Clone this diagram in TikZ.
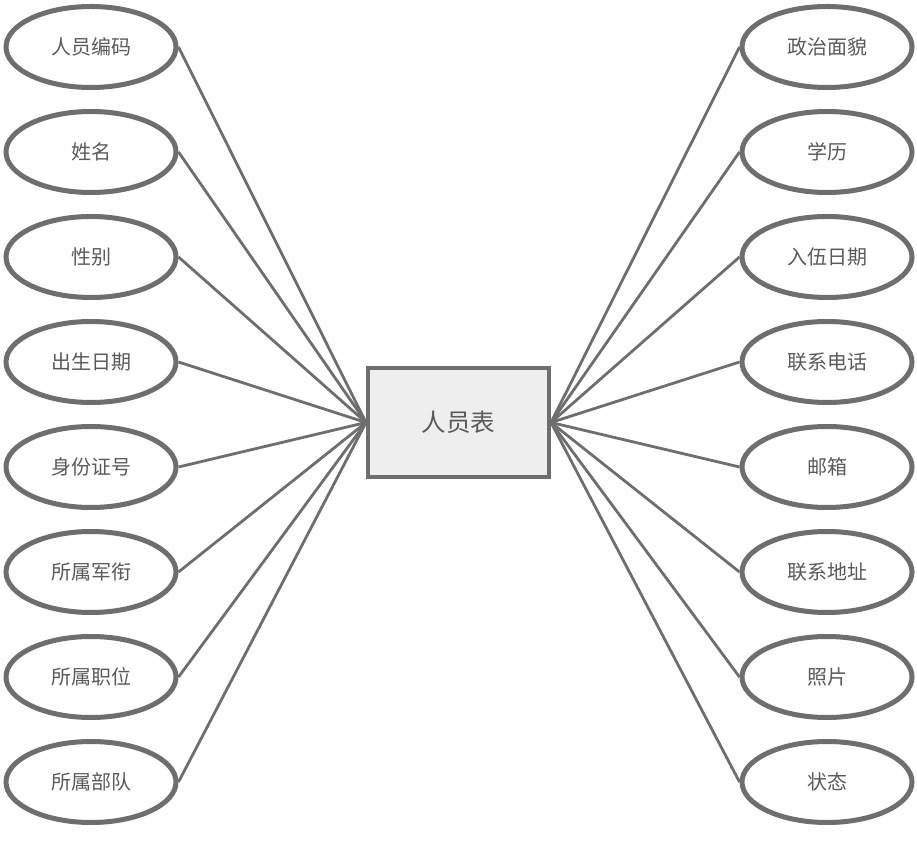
\documentclass[tikz,border=0pt]{standalone}
\usepackage{fontspec}
\newfontfamily\cjk{Noto Sans CJK SC}
\usetikzlibrary{shapes.geometric}
\definecolor{edgegray}{HTML}{6E6E6E}
\definecolor{txtgray}{HTML}{5A5A5A}
\definecolor{boxfill}{HTML}{EEEEEE}
\tikzset{
  attr/.style={ellipse, draw=edgegray, line width=5pt, fill=white, minimum width=170pt, minimum height=81pt, inner sep=0pt, font=\cjk\fontsize{20pt}{23pt}\selectfont, text=txtgray},
  ent/.style={rectangle, draw=edgegray, line width=4pt, fill=boxfill, minimum width=181pt, minimum height=109pt, inner sep=0pt, font=\cjk\fontsize{24.5pt}{27pt}\selectfont, text=txtgray},
  conn/.style={draw=edgegray, line width=2.8pt}
}
\begin{document}
\begin{tikzpicture}[x=1pt,y=1pt]
\useasboundingbox (0,0) rectangle (917,846);
\node[ent] (c) at (458.5,423.5) {人员表};
\foreach \i/\t in {1/人员编码,2/姓名,3/性别,4/出生日期,5/身份证号,6/所属军衔,7/所属职位,8/所属部队}{
  \node[attr] (l\i) at (91,{846-47-105*(\i-1)}) {\t};
}
\foreach \i/\t in {1/政治面貌,2/学历,3/入伍日期,4/联系电话,5/邮箱,6/联系地址,7/照片,8/状态}{
  \node[attr] (r\i) at (827,{846-47-105*(\i-1)}) {\t};
}
\foreach \i in {1,...,8}{
  \draw[conn] (l\i.east) -- (c.west);
  \draw[conn] (r\i.west) -- (c.east);
}
\end{tikzpicture}
\end{document}
